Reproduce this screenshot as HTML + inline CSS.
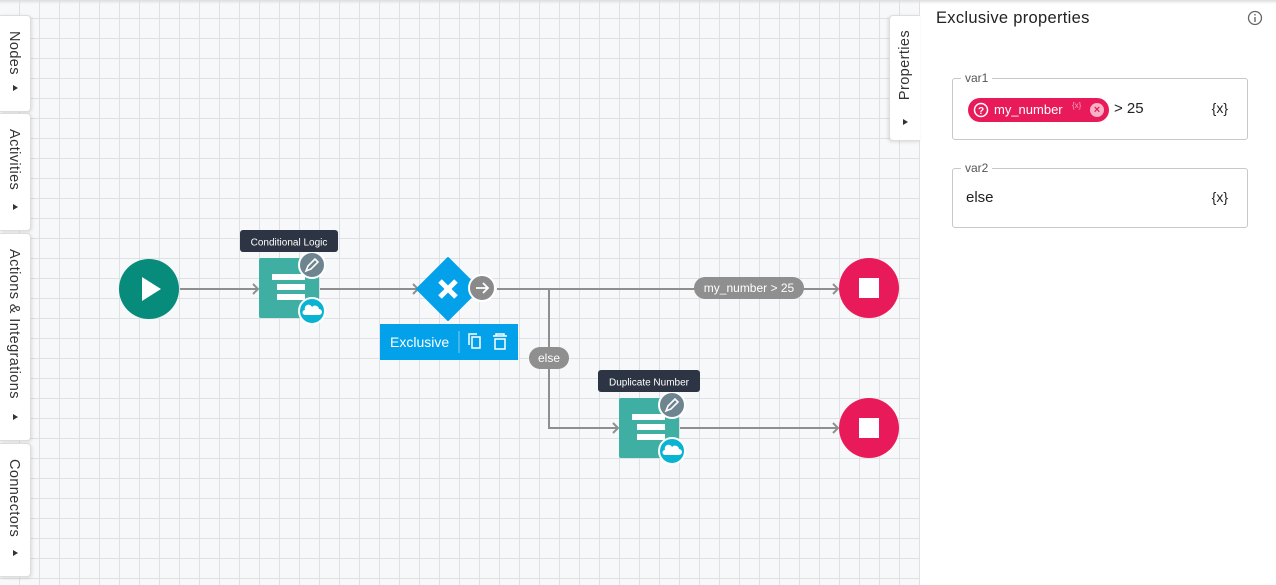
<!DOCTYPE html>
<html><head><meta charset="utf-8"><style>
*{margin:0;padding:0;box-sizing:border-box}
body{width:1276px;height:585px;overflow:hidden;font-family:"Liberation Sans",sans-serif;background:#fff;position:relative}
#canvas{position:absolute;left:0;top:0;width:920px;height:585px;background-color:#f7f8fa;
background-image:linear-gradient(to right,#dfe0e4 1px,transparent 1px),linear-gradient(to bottom,#dfe0e4 1px,transparent 1px);
background-size:20px 20px;background-position:19px 18px;border-right:1px solid #e0e0e0}
.tab{position:absolute;left:0;width:31px;background:#fff;border:1px solid #ddd;border-left:none;border-radius:0 4px 4px 0;box-shadow:1px 1px 3px rgba(0,0,0,.12)}
.tab span{position:absolute;left:6px;top:15px;writing-mode:vertical-rl;font-size:14.5px;color:#333;letter-spacing:.4px}
.tab i{position:absolute;left:13px;bottom:20px;width:0;height:0;border-left:5px solid #333;border-top:3.5px solid transparent;border-bottom:3.5px solid transparent}
#shadow{position:absolute;left:0;top:0;width:1276px;height:4px;background:linear-gradient(#ddd,rgba(255,255,255,0))}
.field{position:absolute;left:952px;width:296px;border:1px solid #c8c8c8;border-radius:3px}
.lbl{position:absolute;top:-8px;left:8px;background:#fff;padding:0 4px;font-size:12px;color:#555}
.fx{position:absolute;right:19px;font-size:14px;color:#222}
</style></head><body>
<div id="canvas"></div>
<div class="tab" style="top:15px;height:97px"><span>Nodes</span><i></i></div>
<div class="tab" style="top:113px;height:118px"><span>Activities</span><i></i></div>
<div class="tab" style="top:233px;height:208px"><span>Actions &amp; Integrations</span><i></i></div>
<div class="tab" style="top:443px;height:134px"><span>Connectors</span><i></i></div>
<div style="position:absolute;left:889px;top:15px;width:31px;height:126px;background:#fff;border:1px solid #ddd;border-right:none;border-radius:4px 0 0 4px;box-shadow:-1px 1px 3px rgba(0,0,0,.12)">
<span style="position:absolute;left:7px;top:14px;writing-mode:vertical-rl;transform:rotate(180deg);font-size:14.5px;color:#333;letter-spacing:.4px">Properties</span>
<i style="position:absolute;left:13px;top:103px;border-left:5px solid #333;border-top:3.5px solid transparent;border-bottom:3.5px solid transparent"></i></div>

<svg style="position:absolute;left:0;top:0" width="920" height="585">
<g stroke="#8f8f8f" stroke-width="2" fill="none">
<line x1="180" y1="289" x2="258" y2="289"/><path d="M253 284l5 5-5 5"/>
<line x1="320" y1="289" x2="418" y2="289"/><path d="M413 284l5 5-5 5"/>
<line x1="497" y1="289" x2="838" y2="289"/><path d="M833 284l5 5-5 5"/>
<path d="M549 289V428H618"/><path d="M613 423l5 5-5 5"/>
<line x1="680" y1="428" x2="838" y2="428"/><path d="M833 423l5 5-5 5"/>
</g>
<circle cx="149" cy="289" r="30" fill="#078b7a"/><path d="M142 277v24l19-12z" fill="#fff"/>
<rect x="259" y="258" width="60" height="60" rx="2" fill="#40afa3"/>
<g fill="#fff"><rect x="272" y="274" width="33" height="6"/><rect x="277" y="284" width="28" height="6"/><rect x="277" y="294" width="28" height="6"/></g>
<circle cx="312" cy="265" r="13" fill="#6e8590" stroke="#fff" stroke-width="2"/>
<path d="M306 271l2-5 7-7 3 3-7 7z" fill="none" stroke="#fff" stroke-width="1.6"/>
<circle cx="312" cy="311" r="13" fill="#08b4d1" stroke="#fff" stroke-width="2"/>
<path d="M305 315h14a3 3 0 0 0 0-6 4 4 0 0 0-7-2 3 3 0 0 0-7 3 2.5 2.5 0 0 0 0 5z" fill="#fff"/>
<rect x="240" y="230" width="98" height="22" rx="3" fill="#2d3544"/>
<text x="289" y="245.5" font-size="10" fill="#fff" text-anchor="middle">Conditional Logic</text>
<path d="M448 258l31 31-31 31-31-31z" fill="#03a1ea" stroke="#03a1ea" stroke-width="2" stroke-linejoin="round"/>
<path d="M440 281l16 16M456 281l-16 16" stroke="#fff" stroke-width="5"/>
<circle cx="482" cy="288" r="13" fill="#8a8a8a" stroke="#fff" stroke-width="2"/>
<path d="M476 288h11M483 283l5 5-5 5" stroke="#fff" stroke-width="1.8" fill="none"/>
<rect x="380" y="324" width="138" height="36" fill="#03a1ea"/>
<text x="390" y="347" font-size="14" fill="#fff">Exclusive</text>
<line x1="459" y1="331" x2="459" y2="353" stroke="#7fcdf3"/>
<rect x="472" y="337" width="8" height="11" fill="none" stroke="#fff" stroke-width="1.5"/><path d="M469 345v-11h8" fill="none" stroke="#fff" stroke-width="1.5"/>
<path d="M493 336h14M496 336v-2h8v2M495 339h10v10h-10z" fill="none" stroke="#fff" stroke-width="1.5"/>
<rect x="529" y="347" width="40" height="22" rx="11" fill="#8f8f8f"/>
<text x="549" y="362" font-size="12" fill="#fff" text-anchor="middle">else</text>
<rect x="694" y="277" width="110" height="22" rx="11" fill="#8f8f8f"/>
<text x="749" y="292" font-size="12" fill="#fff" text-anchor="middle">my_number &gt; 25</text>
<rect x="619" y="398" width="60" height="60" rx="2" fill="#40afa3"/>
<g fill="#fff"><rect x="632" y="414" width="33" height="6"/><rect x="637" y="424" width="28" height="6"/><rect x="637" y="434" width="28" height="6"/></g>
<circle cx="672" cy="405" r="13" fill="#6e8590" stroke="#fff" stroke-width="2"/>
<path d="M666 411l2-5 7-7 3 3-7 7z" fill="none" stroke="#fff" stroke-width="1.6"/>
<circle cx="672" cy="451" r="13" fill="#08b4d1" stroke="#fff" stroke-width="2"/>
<path d="M665 455h14a3 3 0 0 0 0-6 4 4 0 0 0-7-2 3 3 0 0 0-7 3 2.5 2.5 0 0 0 0 5z" fill="#fff"/>
<rect x="598" y="370" width="102" height="22" rx="3" fill="#2d3544"/>
<text x="649" y="385.5" font-size="10" fill="#fff" text-anchor="middle">Duplicate Number</text>
<circle cx="869" cy="288" r="30" fill="#e91a5a"/><rect x="859" y="278" width="20" height="20" fill="#fff"/>
<circle cx="869" cy="428" r="30" fill="#e91a5a"/><rect x="859" y="418" width="20" height="20" fill="#fff"/>
</svg>
<div id="shadow"></div>

<div style="position:absolute;left:936px;top:9px;font-size:16.5px;color:#222;letter-spacing:.3px">Exclusive properties</div>
<svg style="position:absolute;left:1247px;top:10px" width="16" height="16"><circle cx="8" cy="8" r="6.5" fill="none" stroke="#666" stroke-width="1.3"/><rect x="7.3" y="7" width="1.4" height="5" fill="#666"/><rect x="7.3" y="4" width="1.4" height="1.5" fill="#666"/></svg>
<div class="field" style="top:78px;height:62px"><div class="lbl">var1</div>
<div style="position:absolute;left:15px;top:19px;width:141px;height:24px;border-radius:12px;background:#e91a5a;color:#fff;font-size:13px">
<svg style="position:absolute;left:5px;top:4px" width="16" height="16"><circle cx="8" cy="8" r="6.5" fill="none" stroke="#fff" stroke-width="1.5"/><text x="8" y="12" font-size="10" fill="#fff" text-anchor="middle" font-weight="bold">?</text></svg>
<span style="position:absolute;left:26px;top:4px">my_number</span>
<span style="position:absolute;left:104px;top:3px;font-size:8px;color:#f7a0bb">{x}</span>
<span style="position:absolute;left:122px;top:5px;width:14px;height:14px;border-radius:7px;background:#f5b3c7;color:#e91a5a;font-size:11px;line-height:14px;text-align:center;font-weight:bold">×</span></div>
<span style="position:absolute;left:161px;top:21px;font-size:15px;color:#222">&gt; 25</span>
<span class="fx" style="top:21px">{x}</span></div>
<div class="field" style="top:168px;height:60px"><div class="lbl">var2</div>
<span style="position:absolute;left:13px;top:20px;font-size:15px;color:#222">else</span>
<span class="fx" style="top:20px">{x}</span></div>
</body></html>
